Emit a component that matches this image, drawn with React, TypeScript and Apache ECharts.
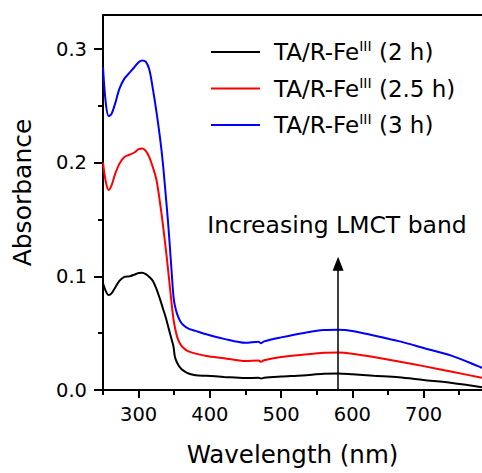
import React, { useEffect, useRef } from "react";
import * as echarts from "echarts";

const wavelengths = [250, 254, 258, 262, 267, 273, 280, 287, 294, 300, 305, 310, 315, 320, 325, 330, 334, 338, 341, 344, 347, 349, 351, 354, 358, 363, 370, 380, 395, 420, 450, 468, 472, 476, 500, 530, 560, 580, 600, 630, 665, 700, 740, 782];

const abs2h = [0.094, 0.087, 0.0835, 0.085, 0.09, 0.096, 0.0995, 0.1, 0.1015, 0.103, 0.1032, 0.102, 0.0995, 0.096, 0.089, 0.08, 0.072, 0.064, 0.057, 0.05, 0.043, 0.038, 0.029, 0.024, 0.02, 0.017, 0.0145, 0.013, 0.0125, 0.0115, 0.0105, 0.0108, 0.0101, 0.0108, 0.0118, 0.0128, 0.0142, 0.0145, 0.0138, 0.0125, 0.0112, 0.0088, 0.0062, 0.0025];

const abs25h = [0.2, 0.183, 0.176, 0.18, 0.19, 0.199, 0.205, 0.207, 0.209, 0.212, 0.2125, 0.2105, 0.205, 0.196, 0.185, 0.165, 0.146, 0.125, 0.108, 0.09, 0.072, 0.062, 0.055, 0.047, 0.041, 0.037, 0.034, 0.032, 0.03, 0.028, 0.0255, 0.026, 0.0248, 0.0262, 0.029, 0.031, 0.0328, 0.033, 0.032, 0.029, 0.025, 0.021, 0.016, 0.0108];

const abs3h = [0.284, 0.252, 0.241, 0.243, 0.252, 0.265, 0.274, 0.279, 0.284, 0.2885, 0.29, 0.289, 0.282, 0.265, 0.245, 0.222, 0.2, 0.172, 0.15, 0.125, 0.098, 0.082, 0.074, 0.067, 0.061, 0.057, 0.054, 0.052, 0.049, 0.045, 0.0415, 0.0425, 0.0412, 0.0428, 0.0463, 0.05, 0.0528, 0.053, 0.052, 0.048, 0.043, 0.037, 0.03, 0.0195];

const seriesNames = ["TA/R-FeIII (2 h)", "TA/R-FeIII (2.5 h)", "TA/R-FeIII (3 h)"];
const seriesTimes = ["(2 h)", "(2.5 h)", "(3 h)"];
const seriesColors = ["#000000", "#ff0000", "#0000ff"];

const xMajorTicks = [300, 400, 500, 600, 700];
const xMinorTicks = [250, 350, 450, 550, 650, 750];
const yMajorTicks = [0, 0.1, 0.2, 0.3];
const yMinorTicks = [0.05, 0.15, 0.25];

const arrowWavelength = 580;
const arrowFrom = 0;
const arrowTo = 0.111;

const FONT = "DejaVu Sans";

export default function App() {
  const ref = useRef<HTMLDivElement>(null);
  useEffect(() => {
    if (!ref.current) return;
    const chart = echarts.init(ref.current, null, { renderer: "svg" });
    const allData = [abs2h, abs25h, abs3h];
    const series: any[] = allData.map((vals, i) => ({
      name: seriesNames[i],
      type: "line",
      data: wavelengths.map((w, j) => [w, vals[j]]),
      symbol: "none",
      showSymbol: false,
      smooth: 0.3,
      lineStyle: { color: seriesColors[i], width: 2 },
      itemStyle: { color: seriesColors[i] },
      z: 3,
    }));
    series[0].markLine = {
      silent: true,
      symbol: ["none", "triangle"],
      symbolSize: [11, 14],
      label: { show: false },
      lineStyle: { color: "#000", width: 1.5, type: "solid" },
      data: [[{ coord: [arrowWavelength, arrowFrom] }, { coord: [arrowWavelength, arrowTo] }]],
    };
    const xBase = { type: "value", min: 250, max: 782, gridIndex: 0 };
    const yBase = { type: "value", min: 0, max: 0.33, gridIndex: 0 };
    chart.setOption({
      animation: false,
      backgroundColor: "#ffffff",
      grid: { left: 103, right: 0, top: 15, bottom: 83, containLabel: false },
      legend: {
        orient: "vertical",
        left: 205,
        top: 34,
        itemWidth: 49,
        itemHeight: 14,
        itemGap: 12,
        data: seriesNames,
        itemStyle: { opacity: 0 },
        lineStyle: { width: 2 },
        formatter: (name: string) => {
          const i = seriesNames.indexOf(name);
          return `{a|TA/R-Fe}{s|III}{a| ${seriesTimes[i]}}`;
        },
        textStyle: {
          padding: [0, 0, 0, 9],
          rich: {
            a: { fontFamily: FONT, fontSize: 23, color: "#000", lineHeight: 26 },
            s: { fontFamily: FONT, fontSize: 14, color: "#000", lineHeight: 14, verticalAlign: "top" },
          },
        },
      },
      xAxis: [
        {
          ...xBase,
          position: "bottom",
          name: "Wavelength (nm)",
          nameLocation: "middle",
          nameGap: 52,
          nameTextStyle: { fontFamily: FONT, fontSize: 24.5, color: "#000" },
          axisLine: { show: true, onZero: false, lineStyle: { color: "#000", width: 2 } },
          axisTick: { show: true, customValues: xMajorTicks, length: 8, lineStyle: { color: "#000", width: 2 } },
          axisLabel: { customValues: xMajorTicks, margin: 14, fontFamily: FONT, fontSize: 19.5, color: "#000" },
          splitLine: { show: false },
        },
        {
          ...xBase,
          position: "top",
          axisLine: { show: true, onZero: false, lineStyle: { color: "#000", width: 2 } },
          axisTick: { show: false },
          axisLabel: { show: false },
          splitLine: { show: false },
        },
        {
          ...xBase,
          position: "bottom",
          axisLine: { show: false },
          axisTick: { show: true, customValues: xMinorTicks, length: 5, lineStyle: { color: "#000", width: 2 } },
          axisLabel: { show: false },
          splitLine: { show: false },
        },
      ],
      yAxis: [
        {
          ...yBase,
          position: "left",
          name: "Absorbance",
          nameLocation: "middle",
          nameGap: 68,
          nameTextStyle: { fontFamily: FONT, fontSize: 25, color: "#000", padding: [0, 0, 0, 20] },
          axisLine: { show: true, onZero: false, lineStyle: { color: "#000", width: 2 } },
          axisTick: { show: true, customValues: yMajorTicks, length: 9, lineStyle: { color: "#000", width: 2 } },
          axisLabel: {
            customValues: yMajorTicks,
            margin: 16,
            fontFamily: FONT,
            fontSize: 19.5,
            color: "#000",
            formatter: (v: number) => v.toFixed(1),
          },
          splitLine: { show: false },
        },
        {
          ...yBase,
          position: "left",
          axisLine: { show: false },
          axisTick: { show: true, customValues: yMinorTicks, length: 5, lineStyle: { color: "#000", width: 2 } },
          axisLabel: { show: false },
          splitLine: { show: false },
        },
      ],
      graphic: [
        {
          type: "text",
          x: 337,
          y: 225,
          style: {
            text: "Increasing LMCT band",
            fontFamily: FONT,
            fontSize: 23.5,
            fill: "#000",
            textAlign: "center",
            textVerticalAlign: "middle",
          },
        },
      ],
      series,
    });
    return () => chart.dispose();
  }, []);
  return <div ref={ref} style={{ width: 482, height: 473, position: "absolute", left: 0, top: 0 }} />;
}
